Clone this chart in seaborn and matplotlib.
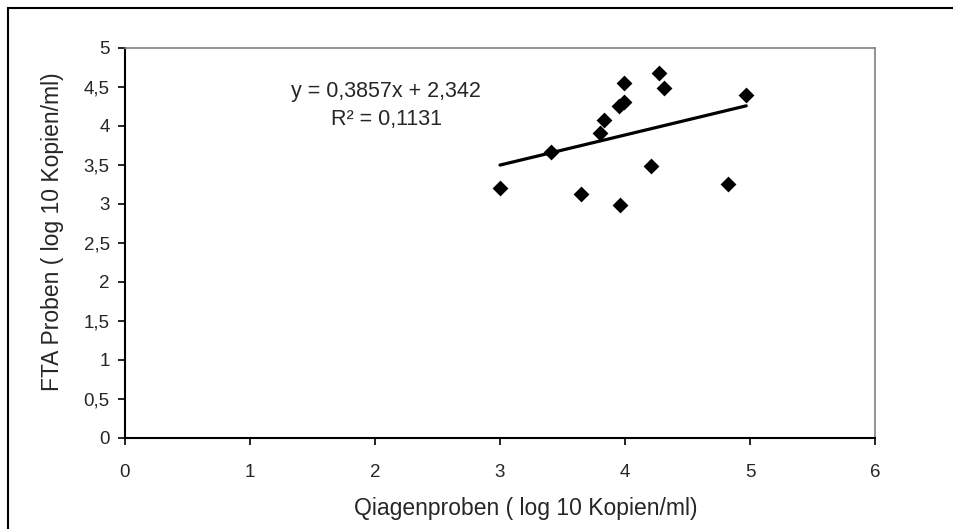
import matplotlib
matplotlib.use("Agg")
import matplotlib.pyplot as plt
import seaborn as sns
import numpy as np
import pandas as pd
from matplotlib.patches import Rectangle

# Paired measurements (log10 copies/ml)
qiagen = [3.00, 3.41, 3.65, 3.80, 3.83, 3.95, 3.99, 3.99, 3.96, 4.21, 4.27, 4.31, 4.82, 4.97]
fta = [3.21, 3.67, 3.13, 3.91, 4.08, 4.26, 4.31, 4.55, 2.99, 3.49, 4.68, 4.49, 3.26, 4.40]

# Linear trend line parameters
slope = 0.3857
intercept = 2.342
r_squared = 0.1131

x_ticks = [0, 1, 2, 3, 4, 5, 6]
y_ticks = [0, 0.5, 1, 1.5, 2, 2.5, 3, 3.5, 4, 4.5, 5]

sns.set_style("white")
plt.rcParams["font.family"] = ["Liberation Sans", "DejaVu Sans"]

df = pd.DataFrame({"qiagen": qiagen, "fta": fta})

fig = plt.figure(figsize=(9.54, 5.29), dpi=100)
ax = fig.add_axes([125 / 954, 1 - 438 / 529, 750 / 954, 390 / 529])

sns.scatterplot(data=df, x="qiagen", y="fta", marker="D", s=65, color="black",
                edgecolor="black", linewidth=0, ax=ax, zorder=3)

xs = np.array([min(qiagen), max(qiagen)])
sns.lineplot(x=xs, y=slope * xs + intercept, color="black", linewidth=2.3, ax=ax, zorder=2)


def comma(v):
    return f"{v:g}".replace(".", ",")


ax.set_xlim(0, 6)
ax.set_ylim(0, 5)
ax.set_xticks(x_ticks)
ax.set_yticks(y_ticks)
ax.set_xticklabels([comma(v) for v in x_ticks], fontsize=13.5)
ax.set_yticklabels([comma(v) for v in y_ticks], fontsize=13.5)
ax.tick_params(axis="both", direction="out", length=5, width=1.2, color="black",
               bottom=True, left=True)
ax.tick_params(axis="x", pad=14)
ax.tick_params(axis="y", pad=6)
ax.set_xlabel("Qiagenproben ( log 10 Kopien/ml)", fontsize=16.5, labelpad=11)
ax.set_ylabel("FTA Proben ( log 10 Kopien/ml)", fontsize=16.5, labelpad=14)
ax.xaxis.label.set_x(0.535)
ax.yaxis.label.set_y(0.528)

for side in ["top", "right"]:
    ax.spines[side].set_color("#808080")
    ax.spines[side].set_linewidth(1.2)
for side in ["left", "bottom"]:
    ax.spines[side].set_color("black")
    ax.spines[side].set_linewidth(1.5)

ax.text(2.09, 4.44, f"y = {comma(slope)}x + {comma(intercept)}",
        ha="center", va="center", fontsize=15.5)
ax.text(2.09, 4.08, f"R\u00b2 = {comma(r_squared)}",
        ha="center", va="center", fontsize=15.5)

# Outer chart frame
fig.patches.append(Rectangle((8 / 954, -0.02), 1.05, 1 - 8 / 529 + 0.02,
                             transform=fig.transFigure, fill=False,
                             edgecolor="black", linewidth=1.5))

fig.savefig("out.png", dpi=100)
